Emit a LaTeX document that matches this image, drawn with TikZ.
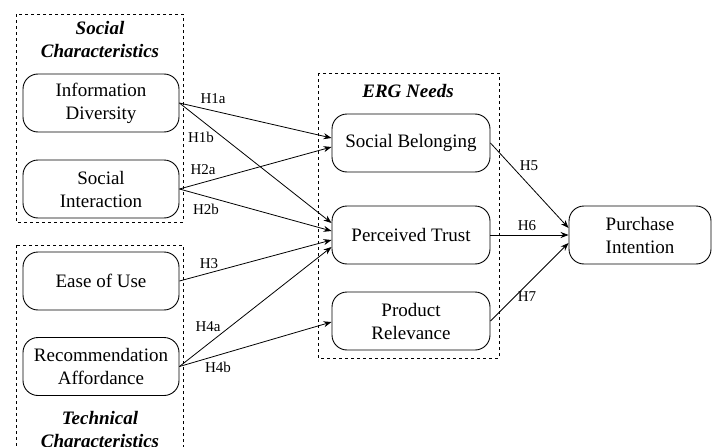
\documentclass[tikz,border=0pt]{standalone}
\usepackage{fontspec}
\setmainfont{Liberation Serif}
\usetikzlibrary{arrows.meta,calc}
\begin{document}
\begin{tikzpicture}[x=1pt,y=-1pt,
  box/.style={draw, rounded corners=15pt, line width=0.9pt, align=center, inner sep=0pt,
    minimum width=156pt, minimum height=58pt, font=\fontsize{19}{23}\selectfont},
  group/.style={draw, dashed, line width=0.8pt},
  grouplabel/.style={align=center, font=\fontsize{19}{23}\selectfont\bfseries\itshape},
  hlabel/.style={font=\fontsize{15}{18}\selectfont, inner sep=0pt},
  arr/.style={-{Stealth[length=8pt,width=6pt]}, line width=0.8pt}]
\useasboundingbox (0,0) rectangle (713,447);
\clip (0,0) rectangle (713,447);
\fill[white] (0,0) rectangle (713,447);
% group boxes
\draw[group] (16,14) rectangle (183,222);
\draw[group] (16,245) rectangle (183,470);
\draw[group] (318,73) rectangle (499,358);
\node[grouplabel] (gsoc) at (100,40) {Social\\Characteristics};
\node[grouplabel] (gtec) at (100,430) {Technical\\Characteristics};
\node[grouplabel] (gerg) at (408,91) {ERG Needs};
% nodes
\node[box] (info) at (101,103) {Information\\Diversity};
\node[box] (si) at (101,189) {Social\\Interaction};
\node[box] (eou) at (101,281) {Ease of Use};
\node[box] (ra) at (101,366.5) {Recommendation\\Affordance};
\node[box, minimum width=158pt] (sb) at (411,143) {Social Belonging};
\node[box, minimum width=158pt] (pt) at (411,235) {Perceived Trust};
\node[box, minimum width=158pt] (pr) at (411,321) {Product\\Relevance};
\node[box, minimum width=142pt] (pi) at (640,235) {Purchase\\Intention};
% connectors
\draw[arr] (info.east) -- ($(sb.west)+(0,-5)$);
\draw[arr] (info.east) -- ($(pt.west)+(0,-12)$);
\draw[arr] (si.east) -- ($(sb.west)+(0,4)$);
\draw[arr] (si.east) -- ($(pt.west)+(0,-4)$);
\draw[arr] (eou.east) -- ($(pt.west)+(0,5)$);
\draw[arr] (ra.east) -- ($(pt.west)+(0,12)$);
\draw[arr] (ra.east) -- ($(pr.west)+(0,1)$);
\draw[arr] (sb.east) -- ($(pi.west)+(0,-7)$);
\draw[arr] (pt.east) -- (pi.west);
\draw[arr] (pr.east) -- ($(pi.west)+(0,8)$);
% labels
\node[hlabel] (h1a) at (213,99) {H1a};
\node[hlabel] (h1b) at (201,137) {H1b};
\node[hlabel] (h2a) at (203,170) {H2a};
\node[hlabel] (h2b) at (206,209) {H2b};
\node[hlabel] (h3) at (209,264) {H3};
\node[hlabel] (h4a) at (208,327) {H4a};
\node[hlabel] (h4b) at (218,367) {H4b};
\node[hlabel] (h5) at (529,166) {H5};
\node[hlabel] (h6) at (527,226) {H6};
\node[hlabel] (h7) at (527,297) {H7};
\end{tikzpicture}
\end{document}
